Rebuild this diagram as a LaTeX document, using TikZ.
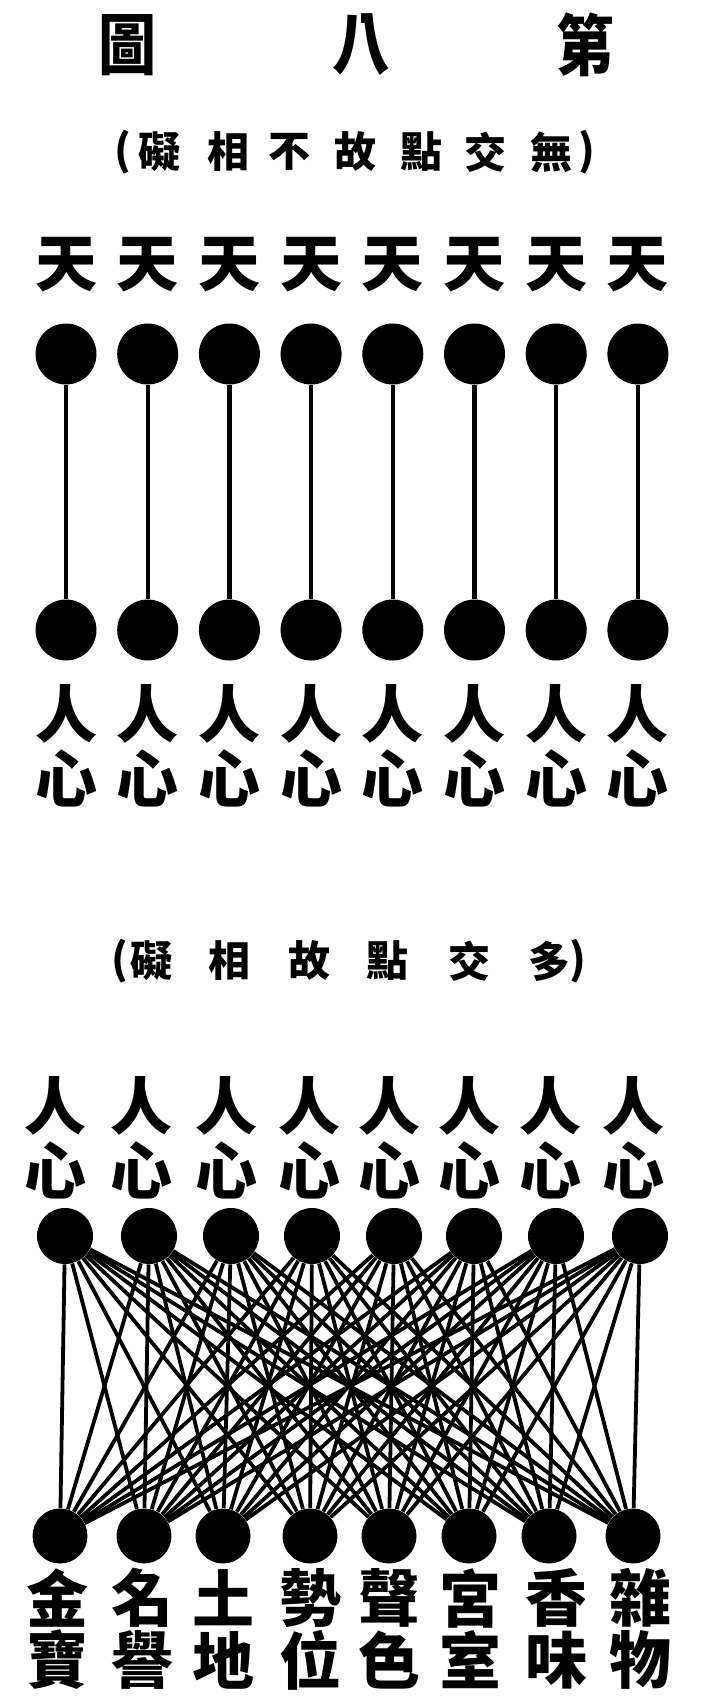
\documentclass[tikz,border=0pt]{standalone}
\usepackage{graphicx}
\usepackage{fontspec}
\newfontfamily\cjk{Noto Sans CJK TC}

\begin{document}
\begin{tikzpicture}[x=0.5pt,y=-0.5pt,
	dot/.style={circle,fill=black,inner sep=0pt,minimum size=#1},
	dot/.default=30.5pt,
	zi/.style={inner sep=0pt,font=\cjk\bfseries\fontsize{31}{31}\selectfont},
	xiaozi/.style={inner sep=0pt,font=\cjk\bfseries\fontsize{21}{21}\selectfont},
	biaoti/.style={inner sep=0pt,font=\cjk\bfseries\fontsize{29}{29}\selectfont},
	xian/.style={line width=2.2pt},
	wang/.style={line width=1.9pt}]
	\useasboundingbox (0,0) rectangle (714,1703);
	% title
	\node [biaoti] (tu) at (127,45) {\scalebox{1}[1.15]{圖}};
	\node [biaoti] (ba) at (361,45) {\scalebox{1}[1.15]{八}};
	\node [biaoti] (di) at (585,45) {\scalebox{1}[1.15]{第}};
	% upper caption
	\node [xiaozi] (kuoA) at (123,152) {(};
	\foreach \c/\xc [count=\n] in {礙/159,相/228,不/289,故/355,點/421,交/485,無/551}
		\node [xiaozi] (capA\n) at (\xc,152) {\c};
	\node [xiaozi] (kuoB) at (587,152) {)};
	% upper figure
	\foreach \i in {1,...,8} {
		\node [zi] (tian\i) at ({66+81.7*(\i-1)},265) {天};
		\node [dot] (top\i) at ({66+81.7*(\i-1)},354) {};
		\node [dot] (bot\i) at ({66+81.7*(\i-1)},630) {};
		\node [zi] (ren\i) at ({66+81.7*(\i-1)},714) {人};
		\node [zi] (xin\i) at ({66+81.7*(\i-1)},778) {心};
		\draw [xian] (top\i) -- (bot\i);
	}
	% lower caption
	\node [xiaozi] (kuoC) at (120,961) {(};
	\foreach \c/\xc [count=\n] in {礙/151,相/229,故/309,點/387,交/469,多/549}
		\node [xiaozi] (capB\n) at (\xc,961) {\c};
	\node [xiaozi] (kuoD) at (578,961) {)};
	% lower figure
	\foreach \xl [count=\i] in {56,141,226,309,389,469,550,633} {
		\node [zi] (renB\i) at (\xl,1106) {人};
		\node [zi] (xinB\i) at (\xl,1170) {心};
	}
	\foreach \xa [count=\i] in {65,149,231,312,394,474,556,640}
		\node [dot=28pt] (up\i) at (\xa,1236) {};
	\foreach \xb [count=\j] in {60,144,223,310,389,469,549,633}
		\node [dot=27.5pt] (dn\j) at (\xb,1536) {};
	\foreach \i in {1,...,8}
		\foreach \j in {1,...,8}
			\draw [wang] (up\i) -- (dn\j);
	\foreach \t/\b/\xw [count=\k] in {金/寶/57,名/譽/142,土/地/223,勢/位/310,聲/色/389,宮/室/470,香/味/556,雜/物/640} {
		\node [zi] (wuA\k) at (\xw,1598) {\t};
		\node [zi] (wuB\k) at (\xw,1660) {\b};
	}
\end{tikzpicture}
\end{document}
